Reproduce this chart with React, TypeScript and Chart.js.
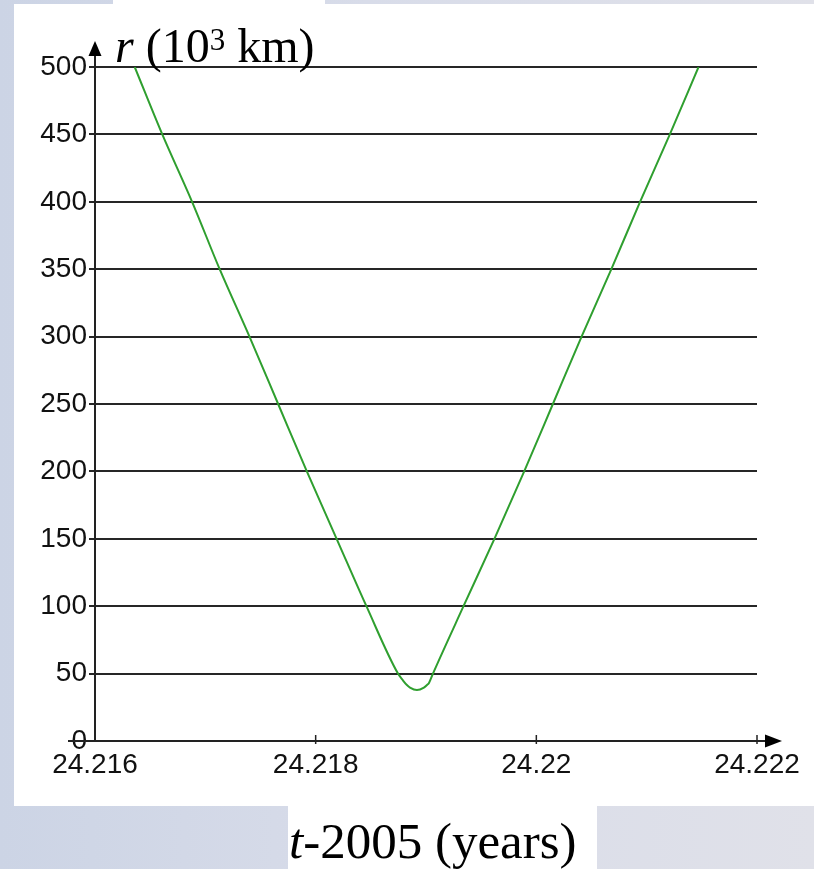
import React, { useEffect, useRef } from "react";
import { Chart, registerables } from "chart.js";

Chart.register(...registerables);

// t - 2005 (years)
const tValues = [
  24.21636, 24.21661, 24.21688, 24.21713, 24.2174, 24.21766, 24.21792, 24.21819,
  24.21846, 24.218746, 24.218791, 24.218827, 24.218855, 24.218918, 24.218981,
  24.219009, 24.219027, 24.219063, 24.21934, 24.21962, 24.21989, 24.22015, 24.22041,
  24.22068, 24.22094, 24.22121, 24.22147,
];
// r (10^3 km)
const rValues = [
  500, 450, 400, 350, 300, 250, 200, 150, 100, 50, 45, 41.5, 39.6, 37.8, 39.6, 41.5,
  43.1, 50, 100, 150, 200, 250, 300, 350, 400, 450, 500,
];
const xTickValues = [24.216, 24.218, 24.22, 24.222];
const xTickLabels = ["24.216", "24.218", "24.22", "24.222"];
const yTickStep = 50;
const yMax = 500;

const axisPlugin = {
  id: "arrowAxes",
  beforeDatasetsDraw(chart: any) {
    const ctx = chart.ctx;
    const xs = chart.scales.x;
    const ys = chart.scales.y;
    const x0 = xs.getPixelForValue(xTickValues[0]);
    const y0 = ys.getPixelForValue(0);
    const yTop = ys.getPixelForValue(yMax);
    ctx.save();
    ctx.strokeStyle = "#222";
    ctx.fillStyle = "#000";
    ctx.lineWidth = 2;
    // y axis
    ctx.beginPath();
    ctx.moveTo(x0, y0);
    ctx.lineTo(x0, yTop - 12);
    ctx.stroke();
    ctx.beginPath();
    ctx.moveTo(x0, yTop - 26);
    ctx.lineTo(x0 - 6.5, yTop - 11);
    ctx.lineTo(x0 + 6.5, yTop - 11);
    ctx.closePath();
    ctx.fill();
    // x axis
    const xEnd = xs.getPixelForValue(xTickValues[xTickValues.length - 1]);
    ctx.beginPath();
    ctx.moveTo(x0 - 27, y0);
    ctx.lineTo(xEnd + 10, y0);
    ctx.stroke();
    ctx.beginPath();
    ctx.moveTo(xEnd + 25, y0);
    ctx.lineTo(xEnd + 8, y0 - 6.5);
    ctx.lineTo(xEnd + 8, y0 + 6.5);
    ctx.closePath();
    ctx.fill();
    // x ticks
    ctx.lineWidth = 1.5;
    xTickValues.slice(1).forEach((v) => {
      const px = xs.getPixelForValue(v);
      ctx.beginPath();
      ctx.moveTo(px, y0 - 6);
      ctx.lineTo(px, y0 + 3);
      ctx.stroke();
    });
    ctx.restore();
  },
};

export default function App() {
  const ref = useRef<HTMLCanvasElement | null>(null);

  useEffect(() => {
    if (!ref.current) return;
    const data = tValues.map((t, i) => ({ x: t, y: rValues[i] }));
    const chart = new Chart(ref.current, {
      type: "line",
      data: {
        datasets: [
          {
            data,
            borderColor: "#2f9f2f",
            borderWidth: 2,
            pointRadius: 0,
            fill: false,
            cubicInterpolationMode: "monotone",
          },
        ],
      },
      options: {
        responsive: false,
        animation: false,
        events: [],
        layout: { padding: { top: 67, right: 57, left: 0, bottom: 0 } },
        plugins: { legend: { display: false }, tooltip: { enabled: false } },
        scales: {
          x: {
            type: "linear",
            min: xTickValues[0],
            max: xTickValues[xTickValues.length - 1],
            grid: { display: false },
            border: { display: false },
            afterBuildTicks: (scale: any) => {
              scale.ticks = xTickValues.map((v) => ({ value: v }));
            },
            afterFit: (scale: any) => {
              scale.height = 128;
            },
            ticks: {
              autoSkip: false,
              maxRotation: 0,
              padding: -1,
              color: "#111",
              font: { family: "'Liberation Sans', Arial, sans-serif", size: 28 },
              callback: (_v: any, i: number) => xTickLabels[i],
            },
          },
          y: {
            min: 0,
            max: yMax,
            grid: {
              color: "#262626",
              lineWidth: 2,
              drawTicks: true,
              tickLength: 6,
            },
            border: { display: false },
            afterFit: (scale: any) => {
              scale.width = 95;
            },
            ticks: {
              stepSize: yTickStep,
              padding: 2,
              color: "#111",
              font: { family: "'Liberation Sans', Arial, sans-serif", size: 28 },
            },
          },
        },
      },
      plugins: [axisPlugin],
    });
    return () => chart.destroy();
  }, []);

  const serif = "'Liberation Serif', 'Times New Roman', serif";

  return (
    <div
      style={{
        position: "fixed",
        left: 0,
        top: 0,
        width: 814,
        height: 869,
        overflow: "hidden",
        background: "linear-gradient(90deg, #ccd4e5 0%, #d8dce9 45%, #e0e1e9 100%)",
      }}
    >
      <div style={{ position: "absolute", left: 14, top: 4, width: 800, height: 802, background: "#fff" }} />
      <div style={{ position: "absolute", left: 113, top: 0, width: 212, height: 10, background: "#fff" }} />
      <div style={{ position: "absolute", left: 288, top: 806, width: 309, height: 63, background: "#fff" }} />
      <canvas ref={ref} width={814} height={869} style={{ position: "absolute", left: 0, top: 0 }} />
      <div
        style={{
          position: "absolute",
          left: 115,
          top: 22,
          fontFamily: serif,
          fontSize: 48,
          lineHeight: "48px",
          color: "#000",
          whiteSpace: "nowrap",
        }}
      >
        <i>r</i> (10<span style={{ fontSize: 31, verticalAlign: 12, lineHeight: 0 }}>3</span> km)
      </div>
      <div
        style={{
          position: "absolute",
          left: 289,
          top: 816,
          fontFamily: serif,
          fontSize: 51,
          lineHeight: "51px",
          color: "#000",
          whiteSpace: "nowrap",
        }}
      >
        <i>t</i>-2005 (years)
      </div>
    </div>
  );
}
